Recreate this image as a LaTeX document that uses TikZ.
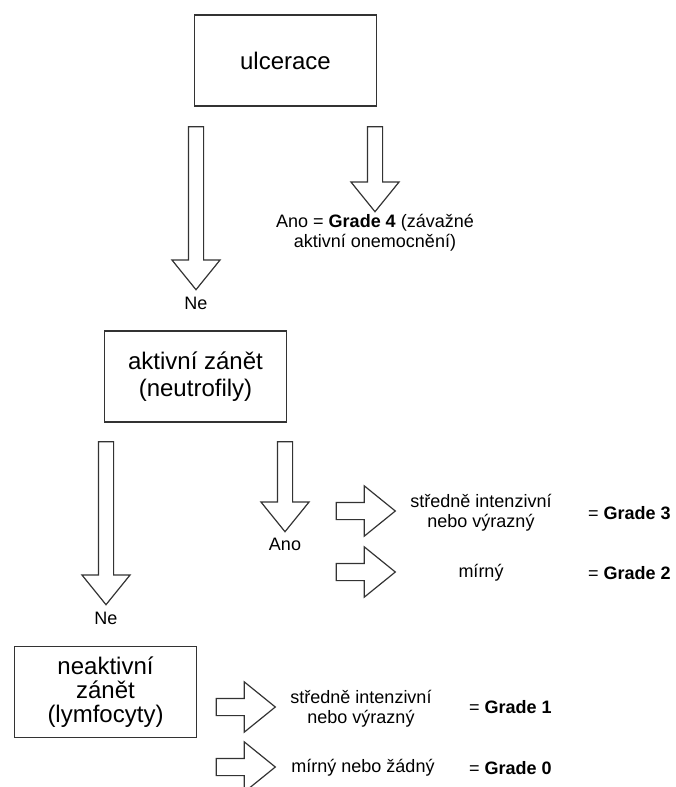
\documentclass[tikz,border=0pt]{standalone}
\usepackage{fontspec}
\setmainfont{Liberation Sans}
\usetikzlibrary{shapes.arrows}

\begin{document}
\begin{tikzpicture}[x=1pt, y=-1pt]
        \useasboundingbox (0,0) rectangle (675,787);
        \tikzstyle{Box} = [draw=black!80, line width=1.2pt, minimum width=182pt, minimum height=91pt, align=center, font=\fontsize{24}{27}\selectfont]
        \tikzstyle{Arrow} = [single arrow, draw=black!80, line width=1.2pt, inner sep=7pt, minimum width=47pt, single arrow head extend=16.5pt, single arrow tip angle=78]
        \tikzstyle{Label} = [align=center, font=\fontsize{18}{20}\selectfont]
        \node[Box] (U) at (285.5,60.5) {ulcerace};
        \node[Box] (A) at (195.5,376.5) {aktivní zánět\\(neutrofily)};
        \node[Box, font=\fontsize{24}{24}\selectfont] (N) at (105.5,692) {neaktivní\\zánět\\(lymfocyty)};
        \tikzstyle{Arrow} += [rotate=-90]
        \node[Arrow, minimum height=163pt] (UNe) at (196,203.5) {};
        \node[Arrow, minimum height=85pt] (UAno) at (375,164.5) {};
        \node[Arrow, minimum height=163pt] (ANe) at (106,518.5) {};
        \node[Arrow, minimum height=90pt] (AAno) at (285,482) {};
        \tikzstyle{Arrow} += [rotate=90, inner sep=8pt, minimum height=59pt]
        \node[Arrow] (A3) at (360.5,511) {};
        \node[Arrow] (A2) at (360.5,572) {};
        \node[Arrow] (N1) at (240.5,707) {};
        \node[Arrow] (N0) at (240.5,767) {};
        \node[Label] (LUNe) at (196,303) {Ne};
        \node[Label] (LUAno) at (375,233) {Ano = \textbf{Grade 4} (závažné\\aktivní onemocnění)};
        \node[Label] (LANe) at (106,618) {Ne};
        \node[Label] (LAAno) at (285,544) {Ano};
        \node[Label] (T3) at (481,513) {středně intenzivní\\nebo výrazný};
        \node[Label] (T2) at (481,573) {mírný};
        \node[Label, anchor=west, inner sep=0pt] (G3) at (588,513) {= \textbf{Grade 3}};
        \node[Label, anchor=west, inner sep=0pt] (G2) at (588,573) {= \textbf{Grade 2}};
        \node[Label] (T1) at (361,709) {středně intenzivní\\nebo výrazný};
        \node[Label] (T0) at (363,768) {mírný nebo žádný};
        \node[Label, anchor=west, inner sep=0pt] (G1) at (469,707) {= \textbf{Grade 1}};
        \node[Label, anchor=west, inner sep=0pt] (G0) at (469,768) {= \textbf{Grade 0}};
    \end{tikzpicture}
\end{document}
